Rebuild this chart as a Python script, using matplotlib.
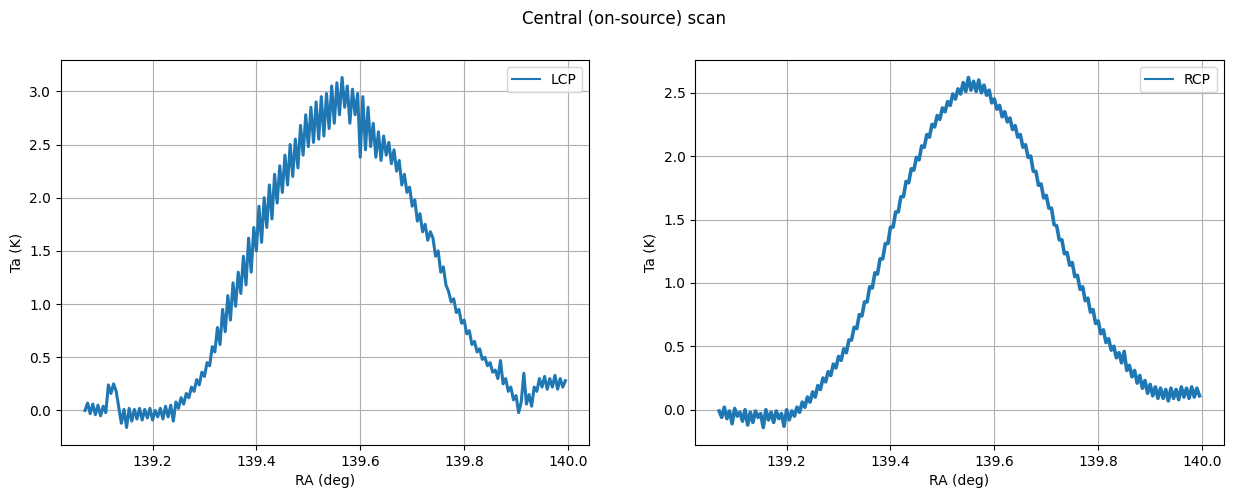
import numpy as np
import matplotlib
matplotlib.use("Agg")
import matplotlib.pyplot as plt

# RA sampling grid (deg)
ra_start = 139.070
ra_step = 0.005
n_points = 186

lcp_ta = [
    0.00, 0.07, -0.03, 0.06, -0.04, 0.05, -0.05, 0.04, -0.02, 0.24,
    0.16, 0.25, 0.18, 0.03, -0.12, 0.01, -0.16, 0.02, -0.10, 0.01,
    -0.08, 0.02, -0.09, 0.01, -0.07, 0.02, -0.09, 0.00, -0.06, 0.02,
    -0.08, 0.04, -0.06, 0.05, -0.10, 0.08, 0.02, 0.12, 0.06, 0.16,
    0.12, 0.22, 0.18, 0.29, 0.24, 0.36, 0.32, 0.45, 0.42, 0.60,
    0.55, 0.78, 0.62, 0.95, 0.74, 1.08, 0.85, 1.20, 0.98, 1.30,
    1.10, 1.45, 1.18, 1.62, 1.30, 1.72, 1.50, 1.92, 1.58, 2.00,
    1.72, 2.12, 1.80, 2.22, 1.95, 2.30, 2.05, 2.40, 2.12, 2.50,
    2.20, 2.55, 2.28, 2.68, 2.40, 2.78, 2.48, 2.85, 2.52, 2.90,
    2.55, 2.95, 2.58, 2.98, 2.65, 3.05, 2.70, 3.08, 2.78, 3.13,
    2.85, 3.05, 2.70, 3.02, 2.78, 2.98, 2.38, 2.95, 2.45, 2.85,
    2.48, 2.70, 2.38, 2.62, 2.35, 2.58, 2.40, 2.52, 2.32, 2.45,
    2.25, 2.35, 2.12, 2.22, 2.05, 2.10, 1.92, 1.98, 1.78, 1.85,
    1.68, 1.75, 1.60, 1.68, 1.62, 1.45, 1.50, 1.30, 1.35, 1.18,
    1.12, 1.02, 1.05, 0.92, 0.95, 0.82, 0.85, 0.72, 0.75, 0.62,
    0.65, 0.55, 0.58, 0.48, 0.50, 0.42, 0.45, 0.36, 0.38, 0.30,
    0.47, 0.25, 0.30, 0.18, 0.22, 0.10, 0.14, -0.02, 0.08, 0.35,
    0.06, 0.15, 0.04, 0.22, 0.18, 0.30, 0.22, 0.32, 0.20, 0.30,
    0.22, 0.33, 0.20, 0.30, 0.22, 0.28,
]

rcp_ta = [
    -0.01, -0.06, 0.02, -0.07, -0.01, -0.11, 0.01, -0.05, -0.02, -0.09,
    0.00, -0.12, -0.02, -0.10, -0.01, -0.06, -0.03, -0.14, 0.00, -0.08,
    -0.02, -0.10, -0.01, -0.07, -0.03, -0.13, 0.00, -0.08, -0.01, -0.05,
    0.02, -0.02, 0.06, 0.02, 0.10, 0.06, 0.14, 0.10, 0.19, 0.16,
    0.25, 0.22, 0.30, 0.27, 0.36, 0.33, 0.42, 0.39, 0.48, 0.45,
    0.55, 0.55, 0.65, 0.64, 0.75, 0.74, 0.85, 0.85, 0.97, 0.96,
    1.08, 1.07, 1.19, 1.19, 1.31, 1.31, 1.44, 1.44, 1.56, 1.56,
    1.68, 1.68, 1.80, 1.79, 1.90, 1.89, 1.99, 1.97, 2.08, 2.07,
    2.17, 2.15, 2.25, 2.23, 2.32, 2.29, 2.38, 2.35, 2.43, 2.40,
    2.49, 2.45, 2.53, 2.49, 2.58, 2.51, 2.62, 2.52, 2.59, 2.51,
    2.60, 2.50, 2.56, 2.48, 2.52, 2.42, 2.45, 2.37, 2.40, 2.31,
    2.35, 2.27, 2.30, 2.21, 2.24, 2.15, 2.17, 2.07, 2.09, 1.99,
    2.00, 1.88, 1.88, 1.77, 1.78, 1.67, 1.69, 1.59, 1.59, 1.46,
    1.45, 1.34, 1.34, 1.23, 1.24, 1.14, 1.16, 1.05, 1.06, 0.95,
    0.97, 0.86, 0.88, 0.77, 0.79, 0.68, 0.70, 0.60, 0.63, 0.53,
    0.56, 0.47, 0.50, 0.41, 0.45, 0.37, 0.46, 0.31, 0.35, 0.26,
    0.31, 0.21, 0.27, 0.17, 0.23, 0.13, 0.20, 0.11, 0.18, 0.09,
    0.17, 0.09, 0.16, 0.07, 0.17, 0.09, 0.16, 0.08, 0.18, 0.10,
    0.17, 0.09, 0.18, 0.10, 0.17, 0.11,
]

ra = ra_start + ra_step * np.arange(n_points)

W, H = 1233, 498
fig = plt.figure(figsize=(W / 100, H / 100), dpi=100)
ax_w = 528.4 / W
ax_h = 385 / H
ax_b = 53 / H
ax1 = fig.add_axes([61 / W, ax_b, ax_w, ax_h])
ax2 = fig.add_axes([695.1 / W, ax_b, ax_w, ax_h])

ax1.plot(ra, lcp_ta, label="LCP", lw=2.2)
ax2.plot(ra, rcp_ta, label="RCP", lw=2.6)

for ax in (ax1, ax2):
    ax.set_xlabel("RA (deg)")
    ax.set_ylabel("Ta (K)")
    ax.grid(True)
    leg = ax.legend(loc="upper right")
    for ln in leg.get_lines():
        ln.set_linewidth(1.5)
    ax.set_xticks([139.2, 139.4, 139.6, 139.8, 140.0])

fig.suptitle("Central (on-source) scan", x=623.5 / W, y=0.98)
fig.savefig("out.png", dpi=100)
